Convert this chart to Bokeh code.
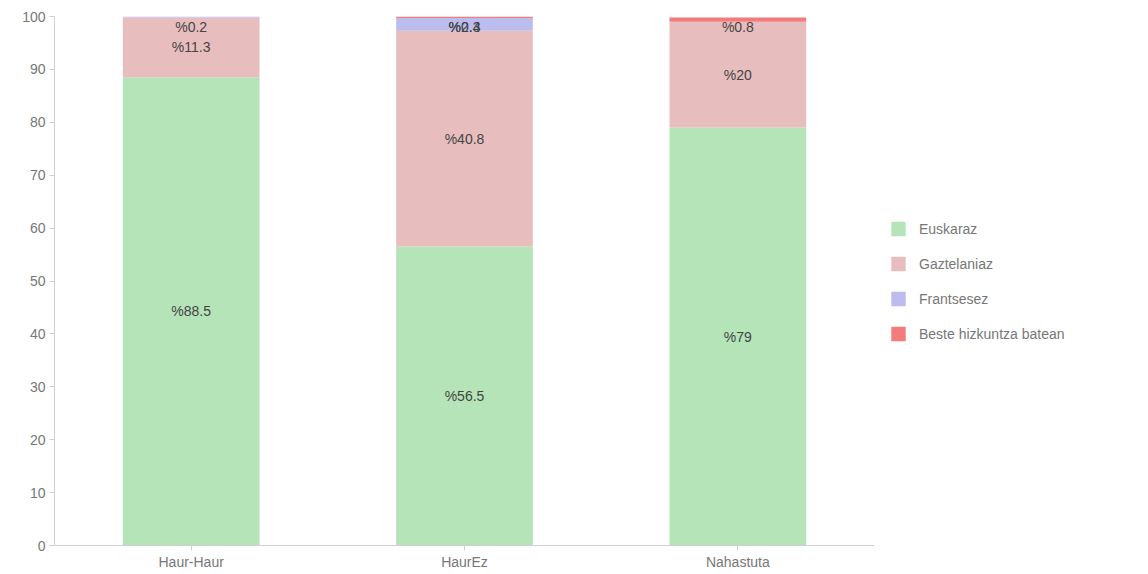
from bokeh.plotting import figure
from bokeh.models import ColumnDataSource, Legend, LegendItem, FactorRange, Range1d, FixedTicker
from bokeh.core.properties import value
from bokeh.embed import file_html
from bokeh.resources import INLINE

categories = ["Haur-Haur", "HaurEz", "Nahastuta"]
series_names = ["Euskaraz", "Gaztelaniaz", "Frantsesez", "Beste hizkuntza batean"]
euskaraz = [88.5, 56.5, 79.0]
gaztelaniaz = [11.3, 40.8, 20.0]
frantsesez = [0.2, 2.4, 0.0]
beste = [0.0, 0.3, 0.8]
colors = ["#b5e4b8", "#e8bdbd", "#bcbcee", "#f47b7b"]
y_ticks = [0, 10, 20, 30, 40, 50, 60, 70, 80, 90, 100]

keys = ["eus", "gaz", "fra", "bes"]
data = dict(cat=categories, eus=euskaraz, gaz=gaztelaniaz, fra=frantsesez, bes=beste)
src = ColumnDataSource(data)

FONT = "Liberation Sans"
p = figure(x_range=FactorRange(*categories, range_padding=0), y_range=Range1d(0, 100),
           frame_width=820, frame_height=529, output_backend="svg", toolbar_location=None,
           min_border_left=54, min_border_top=16, min_border_bottom=21, min_border_right=0)
p.outline_line_color = None
p.xgrid.grid_line_color = None
p.ygrid.grid_line_color = None

renderers = p.vbar_stack(keys, x="cat", width=0.5, source=src, color=colors, line_color=None)

# labels
lx, ly, lt = [], [], []
series = [euskaraz, gaztelaniaz, frantsesez, beste]
for i, c in enumerate(categories):
    base = 0.0
    for s in series:
        v = s[i]
        if v > 0:
            center = base + v / 2
            lx.append(c)
            ly.append(min(center, 98.0))
            lt.append("%" + ("%g" % v))
        base += v
lsrc = ColumnDataSource(dict(x=lx, y=ly, t=lt))
p.text(x="x", y="y", text="t", source=lsrc, text_align="center", text_baseline="middle",
       text_font=value(FONT), text_font_size="14px", text_color="#444444")

for ax in (p.xaxis[0], p.yaxis[0]):
    ax.axis_line_color = "#d0d0d0"
    ax.major_tick_line_color = "#d0d0d0"
    ax.minor_tick_line_color = None
    ax.major_tick_out = 5
    ax.major_tick_in = 0
    ax.major_label_text_font = FONT
    ax.major_label_text_font_size = "14px"
    ax.major_label_text_color = "#777777"
p.yaxis.ticker = FixedTicker(ticks=y_ticks)
p.yaxis.major_label_standoff = 4
p.xaxis.major_label_standoff = 3

legend = Legend(items=[LegendItem(label=n, renderers=[r]) for n, r in zip(series_names, renderers)],
                location="center_left", border_line_color=None, background_fill_alpha=0,
                label_text_font=FONT, label_text_font_size="14px", label_text_color="#777777",
                glyph_width=18, glyph_height=18, label_height=18, spacing=17,
                padding=0, margin=15, label_standoff=12)
p.add_layout(legend, "right")

open("out.html", "w").write(file_html(p, INLINE))
